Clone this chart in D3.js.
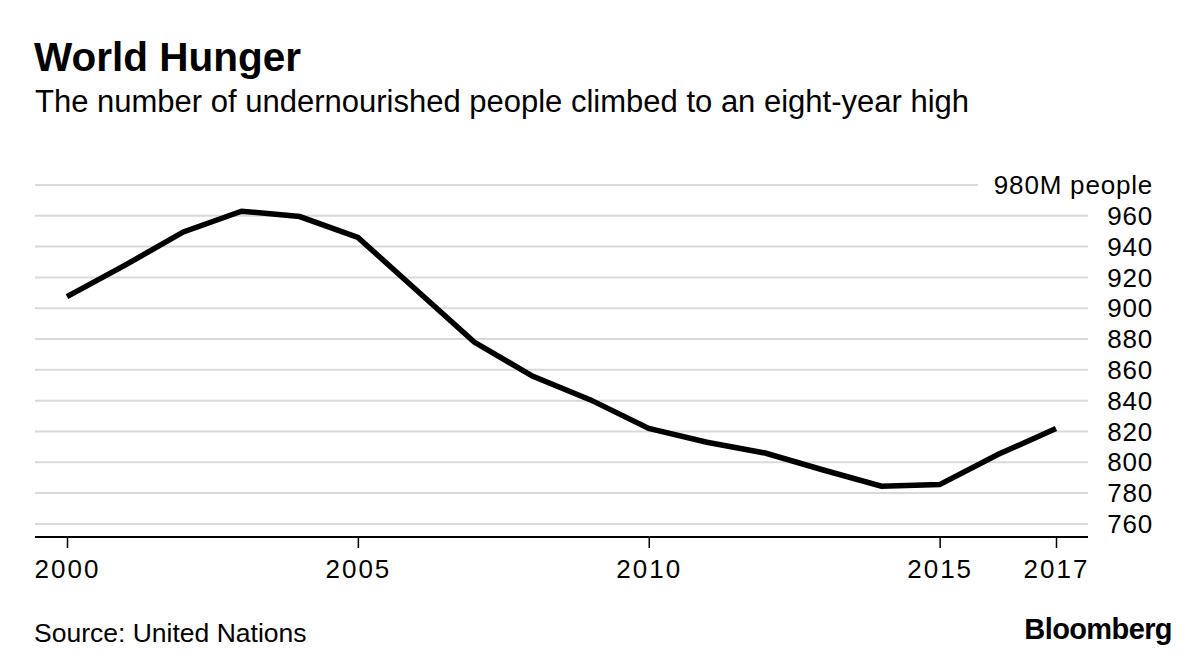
<!DOCTYPE html>
<html>
<head>
<meta charset="utf-8">
<script src="https://cdn.jsdelivr.net/npm/d3@7"></script>
<style>
  html, body { margin: 0; padding: 0; background: #fff; }
  svg { display: block; font-family: "Liberation Sans", Arial, Helvetica, sans-serif; }
</style>
</head>
<body>
<svg id="chart" width="1200" height="664"></svg>
<script>
// ---- data ----
const years = [2000, 2001, 2002, 2003, 2004, 2005, 2006, 2007, 2008, 2009, 2010, 2011, 2012, 2013, 2014, 2015, 2016, 2017];
const undernourished = [907.5, 928, 949.5, 963, 959.5, 946, 912, 878, 856, 840.5, 822, 813, 806, 795, 784.5, 785.5, 805, 822];
const yTicks = [760, 780, 800, 820, 840, 860, 880, 900, 920, 940, 960, 980];
const xTicks = [2000, 2005, 2010, 2015, 2017];
const titleText = "World Hunger";
const subtitleText = "The number of undernourished people climbed to an eight-year high";
const unitLabel = "M people";
const sourceText = "Source: United Nations";
const brandText = "Bloomberg";

// ---- layout ----
const plotLeft = 35, plotRight = 1088, axisY = 537, topY = 185;
const svg = d3.select("#chart");

const x = d3.scaleLinear().domain([2000, 2017]).range([67, 1056]);
const y = d3.scaleLinear().domain([751.5, 980]).range([axisY, topY]);

// titles
svg.append("text").attr("x", 34).attr("y", 71)
  .attr("font-size", 40.5).attr("font-weight", "bold").attr("fill", "#000")
  .text(titleText);
svg.append("text").attr("x", 35).attr("y", 112)
  .attr("font-size", 31).attr("fill", "#000")
  .text(subtitleText);

// gridlines
svg.append("g").selectAll("line").data(yTicks).join("line")
  .attr("x1", plotLeft)
  .attr("x2", d => d === 980 ? 978 : plotRight)
  .attr("y1", d => y(d)).attr("y2", d => y(d))
  .attr("stroke", "#d9d9d9").attr("stroke-width", 2);

// y labels (right side)
svg.append("g").selectAll("text").data(yTicks).join("text")
  .attr("x", 1153).attr("y", d => y(d))
  .attr("dy", "0.35em")
  .attr("text-anchor", "end")
  .attr("font-size", 26).attr("letter-spacing", "0.8")
  .attr("fill", "#000")
  .text(d => d === 980 ? d + unitLabel : d);

// x axis
const xAxis = d3.axisBottom(x).tickValues(xTicks).tickFormat(d3.format("d")).tickSize(11).tickPadding(12);
const gx = svg.append("g").attr("transform", `translate(0,${axisY})`).call(xAxis);
gx.select(".domain").remove();
gx.append("line").attr("x1", plotLeft).attr("x2", plotRight).attr("y1", 0).attr("y2", 0)
  .attr("stroke", "#000").attr("stroke-width", 2);
gx.selectAll(".tick line").attr("stroke", "#000").attr("stroke-width", 1.5);
gx.selectAll(".tick text")
  .attr("font-family", "'Liberation Sans', Arial, sans-serif")
  .attr("font-size", 26).attr("letter-spacing", "2").attr("fill", "#000")
  .attr("dy", "0.71em");

// line
const data = years.map((yr, i) => ({ yr, v: undernourished[i] }));
svg.append("path").datum(data)
  .attr("fill", "none").attr("stroke", "#000").attr("stroke-width", 5.5)
  .attr("stroke-linejoin", "miter").attr("stroke-linecap", "butt")
  .attr("d", d3.line().x(d => x(d.yr)).y(d => y(d.v)));

// footer
svg.append("text").attr("x", 34).attr("y", 642)
  .attr("font-size", 26.5).attr("fill", "#000").text(sourceText);
svg.append("text").attr("x", 1172).attr("y", 639)
  .attr("text-anchor", "end").attr("font-size", 29).attr("font-weight", "bold")
  .attr("letter-spacing", "-0.6").attr("fill", "#000").text(brandText);
</script>
</body>
</html>
